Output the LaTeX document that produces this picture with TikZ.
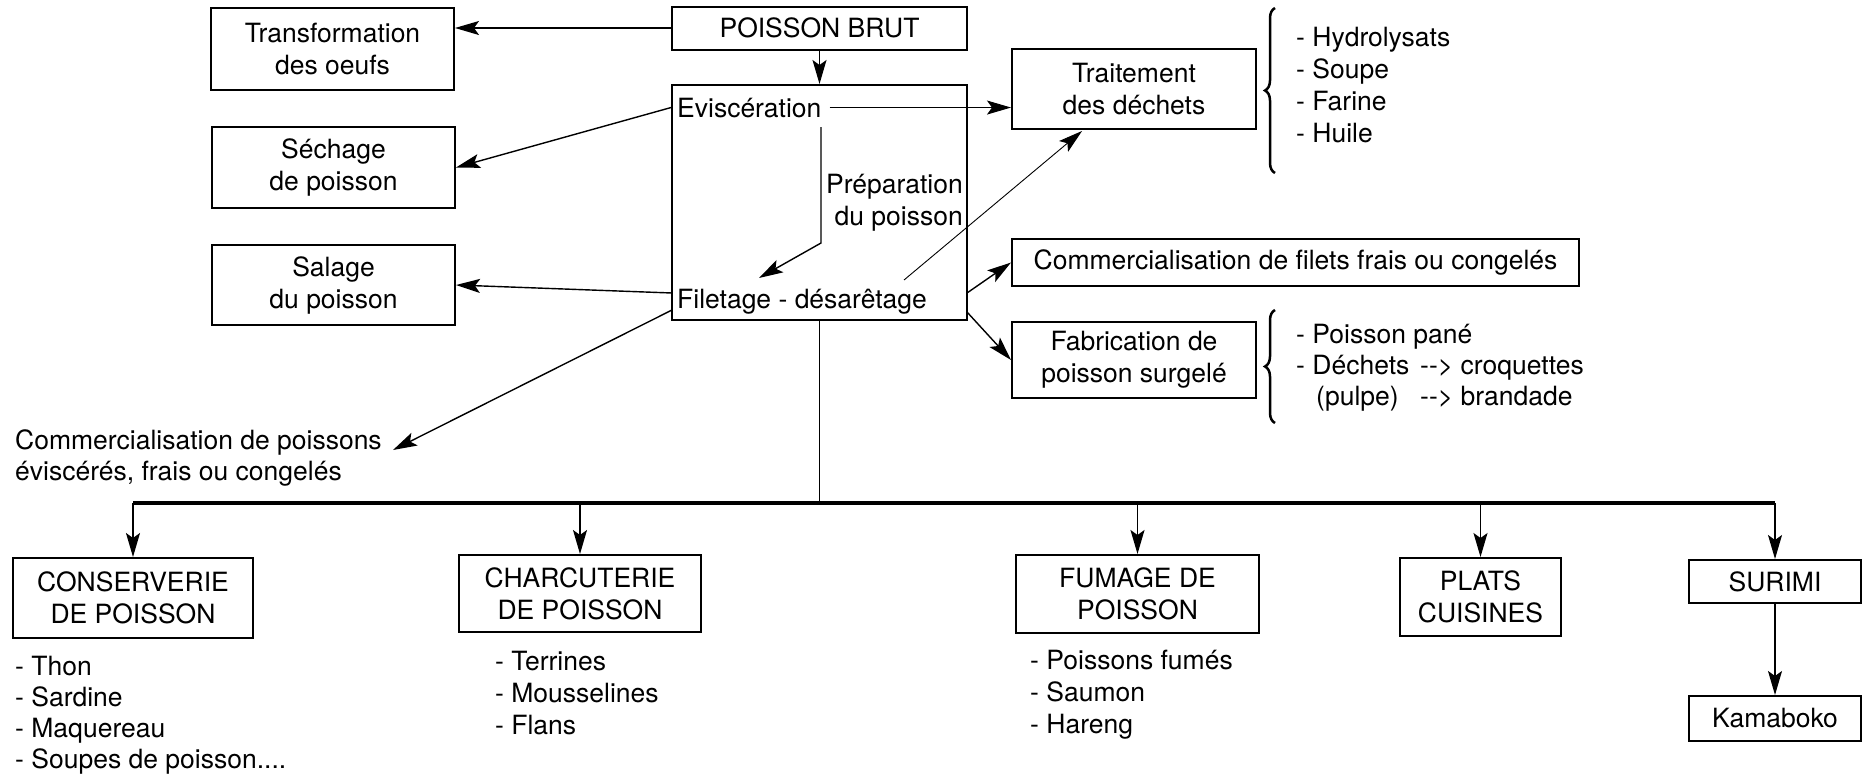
\documentclass[tikz,border=0pt]{standalone}
\usepackage{fontspec}
\setmainfont{TeX Gyre Heros}
\usetikzlibrary{arrows.meta,decorations.pathreplacing}
\newcommand{\dgfont}{\fontsize{26.5}{32}\selectfont}
\begin{document}
\begin{tikzpicture}[x=1pt,y=-1pt,
  box/.style={draw, line width=2pt, align=center, inner sep=0pt, font=\dgfont},
  txt/.style={inner sep=0pt, font=\dgfont, anchor=base west},
  arr/.style={-{Stealth[length=24pt,width=14pt,inset=5pt]}, line width=1.4pt},
  arrthin/.style={-{Stealth[length=24pt,width=14pt,inset=5pt]}, line width=0.9pt},
  brc/.style={decorate, decoration={brace, amplitude=10pt}, line width=2.5pt}]
\useasboundingbox (0,0) rectangle (1864,777);

% top boxes
\node[box, minimum width=295, minimum height=43] (brut) at (819.5,28) {POISSON BRUT};
\node[box, minimum width=295, minimum height=235] (big) at (819.5,202.5) {};
\node[box, minimum width=243, minimum height=82] (trans) at (332.5,49) {Transformation\\des oeufs};
\node[box, minimum width=243, minimum height=81] (sech) at (333.5,167.5) {Séchage\\de poisson};
\node[box, minimum width=243, minimum height=80] (sal) at (333.5,285) {Salage\\du poisson};
\node[box, minimum width=244, minimum height=80] (trait) at (1134,89) {Traitement\\des déchets};
\node[box, minimum width=567, minimum height=47] (comf) at (1295.5,262.5) {Commercialisation de filets frais ou congelés};
\node[box, minimum width=244, minimum height=76] (fab) at (1134,360) {Fabrication de\\poisson surgelé};

% texts inside big box
\node[txt] (evis) at (677,117) {Eviscération};
\node[inner sep=0pt, font=\dgfont, align=right, anchor=east] (prep) at (963,203) {Préparation\\du poisson};
\node[txt] (filet) at (677,308) {Filetage - désarêtage};

% lists on the right
\draw[brc] (1275,173) -- (1275,8);
\node[txt] (h1) at (1296,46) {- Hydrolysats};
\node[txt] (h2) at (1296,78) {- Soupe};
\node[txt] (h3) at (1296,110) {- Farine};
\node[txt] (h4) at (1296,142) {- Huile};
\draw[brc] (1275,423) -- (1275,310);
\node[txt] (f1) at (1296,343) {- Poisson pané};
\node[txt] (f2) at (1296,374) {- Déchets};
\node[txt] (f3) at (1420,374) {\mbox{-}\mbox{-}> croquettes};
\node[txt] (f4) at (1316,405) {(pulpe)};
\node[txt] (f5) at (1420,405) {\mbox{-}\mbox{-}> brandade};

% commercialisation poissons
\node[txt] (cp1) at (15,449) {Commercialisation de poissons};
\node[txt] (cp2) at (15,480) {éviscérés, frais ou congelés};

% bottom boxes
\node[box, minimum width=240, minimum height=80] (cons) at (133,598) {CONSERVERIE\\DE POISSON};
\node[box, minimum width=242, minimum height=77] (charc) at (580,593.5) {CHARCUTERIE\\DE POISSON};
\node[box, minimum width=243, minimum height=78] (fum) at (1137.5,594) {FUMAGE DE\\POISSON};
\node[box, minimum width=161, minimum height=78] (plats) at (1480.5,597) {PLATS\\CUISINES};
\node[box, minimum width=172, minimum height=43] (surimi) at (1775,581.5) {SURIMI};
\node[box, minimum width=172, minimum height=45] (kama) at (1775,718.5) {Kamaboko};

% bottom lists
\node[txt] (c1) at (15,675) {- Thon};
\node[txt] (c2) at (15,706) {- Sardine};
\node[txt] (c3) at (15,737) {- Maquereau};
\node[txt] (c4) at (15,768) {- Soupes de poisson....};
\node[txt] (t1) at (495,670) {- Terrines};
\node[txt] (t2) at (495,702) {- Mousselines};
\node[txt] (t3) at (495,734) {- Flans};
\node[txt] (p1) at (1030,669) {- Poissons fumés};
\node[txt] (p2) at (1030,701) {- Saumon};
\node[txt] (p3) at (1030,733) {- Hareng};

% coordinates
\coordinate (pa) at (821,127);
\coordinate (pb) at (821,243);
\coordinate (pc) at (759,278);
\coordinate (ta) at (904,280);
\coordinate (tb) at (1082,131);
\coordinate (ba) at (967,293);
\coordinate (bb) at (967,312);
\coordinate (ca) at (672,310);
\coordinate (cb) at (393,450);
\coordinate (sa) at (672,293);
\coordinate (bar) at (0,503);

% connectors
\draw[arr] (brut.west) -- (brut.west -| trans.east);
\draw[arr] (brut.south) -- (big.north);
\draw[arrthin] ([xshift=8pt]evis.east) -- (trait.west |- evis.east);
\draw[arr] (big.west |- evis.east) -- (sech.east);
\draw[arr] (pa) -- (pb) -- (pc);
\draw[arr] (sa) -- (sal.east);
\draw[arrthin] (ta) -- (tb);
\draw[arr] (ba) -- (comf.west);
\draw[arr] (bb) -- (fab.west);
\draw[arr] (ca) -- (cb);
\draw[line width=1pt] (big.south) -- (big.south |- bar);
\draw[line width=4pt] (cons.north |- bar) -- (surimi.north |- bar);
\foreach \n in {cons,charc,fum,plats,surimi}
  \draw[arr] (\n.north |- bar) -- (\n.north);
\draw[arr] (surimi.south) -- (kama.north);
\end{tikzpicture}
\end{document}
